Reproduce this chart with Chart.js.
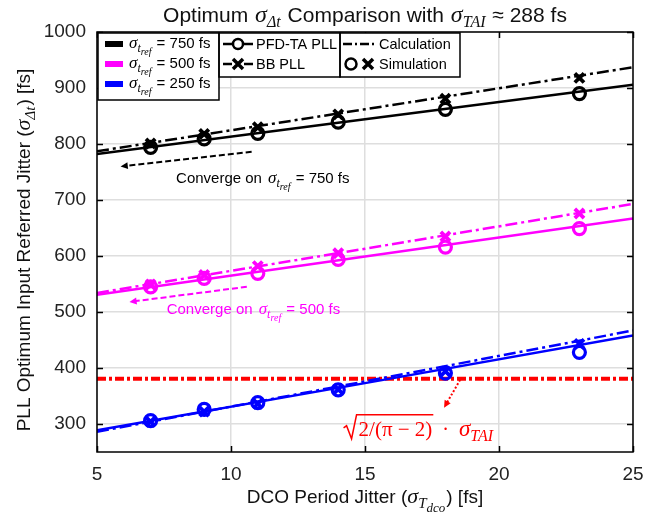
<!DOCTYPE html>
<html>
<head>
<meta charset="utf-8">
<script src="https://cdn.jsdelivr.net/npm/chart.js@4"></script>
<style>
html,body{margin:0;padding:0;background:#fff;}
canvas{display:block;}
</style>
</head>
<body>
<canvas id="c" width="659" height="517"></canvas>
<script>
// ---------------- data ----------------
const xTicks = [5, 10, 15, 20, 25];
const yTicks = [300, 400, 500, 600, 700, 800, 900, 1000];

// calculation lines (read at x = 5, 15, 25)
const calcX = [5, 15, 25];
const calc750PFD = [782, 844, 906];
const calc750BB  = [787, 862, 937];
const calc500PFD = [531, 599, 667];
const calc500BB  = [534, 613, 693];
const calc250PFD = [289, 373, 458];
const calc250BB  = [286, 376, 467];

// simulation points
const simX = [7, 9, 11, 14, 18, 23];
const sim750PFD = [794, 809, 819, 839, 862, 890];
const sim750BB  = [801, 818, 830, 853, 881, 918];
const sim500PFD = [545, 560, 569, 594, 616, 649];
const sim500BB  = [549, 566, 582, 605, 635, 676];
const sim250PFD = [306, 326, 338, 361, 391, 428];
const sim250BB  = [304, 322, 336, 362, 394, 443];

// sqrt(2/(pi-2)) * sigma_TAI
const limitX = [5, 25];
const limitY = [381, 381];

const seriesLabels = ['= 750 fs', '= 500 fs', '= 250 fs'];

// ---------------- styling ----------------
const COL = { k: '#000000', m: '#ff00ff', b: '#0000ff', r: '#ff0000' };
const SANS = '"Liberation Sans", Arial, sans-serif';
const SERIF = '"Liberation Serif", "DejaVu Serif", serif';
const DASHDOT = [12, 4, 3, 4];

const zip = (xs, ys) => xs.map((x, i) => ({ x: x, y: ys[i] }));

function calcSet(label, ys, color, dashed) {
  return { type: 'line', label, data: zip(calcX, ys), borderColor: color, borderWidth: 2.5,
    borderDash: dashed ? DASHDOT : [], pointRadius: 0, fill: false, tension: 0, order: 2 };
}
function simSet(label, ys, color, style) {
  return { type: 'scatter', label, data: zip(simX, ys), borderColor: color,
    backgroundColor: 'rgba(0,0,0,0)', pointStyle: style, pointRadius: style === 'circle' ? 6 : 6.5,
    pointBorderWidth: style === 'circle' ? 3.2 : 3.8, showLine: false, order: 0 };
}

const datasets = [
  simSet('750 PFD sim', sim750PFD, COL.k, 'circle'),
  simSet('750 BB sim', sim750BB, COL.k, 'crossRot'),
  simSet('500 PFD sim', sim500PFD, COL.m, 'circle'),
  simSet('500 BB sim', sim500BB, COL.m, 'crossRot'),
  simSet('250 PFD sim', sim250PFD, COL.b, 'circle'),
  simSet('250 BB sim', sim250BB, COL.b, 'crossRot'),
  calcSet('750 PFD calc', calc750PFD, COL.k, false),
  calcSet('750 BB calc', calc750BB, COL.k, true),
  calcSet('500 PFD calc', calc500PFD, COL.m, false),
  calcSet('500 BB calc', calc500BB, COL.m, true),
  calcSet('250 PFD calc', calc250PFD, COL.b, false),
  calcSet('250 BB calc', calc250BB, COL.b, true),
  { type: 'line', label: 'limit', data: zip(limitX, limitY), borderColor: COL.r, borderWidth: 4,
    borderDash: [9, 3, 3, 3], pointRadius: 0, fill: false, order: 3 }
];

// ---------------- rich text helpers ----------------
function fontOf(r, base) {
  const s = r.s || base;
  return (r.i ? 'italic ' : '') + s + 'px ' + (r.m ? SERIF : SANS);
}
function richWidth(ctx, runs, base) {
  let w = 0;
  runs.forEach(r => { ctx.font = fontOf(r, base); w += ctx.measureText(r.t).width + (r.gap || 0); });
  return w;
}
function drawRich(ctx, runs, x, y, base, align, color) {
  const w = richWidth(ctx, runs, base);
  let cx = align === 'center' ? x - w / 2 : (align === 'right' ? x - w : x);
  ctx.save();
  ctx.fillStyle = color;
  ctx.textBaseline = 'alphabetic';
  ctx.textAlign = 'left';
  const pos = [];
  runs.forEach(r => {
    ctx.font = fontOf(r, base);
    ctx.fillText(r.t, cx, y + (r.dy || 0));
    const ww = ctx.measureText(r.t).width;
    pos.push([cx, cx + ww]);
    cx += ww + (r.gap || 0);
  });
  ctx.restore();
  return pos;
}
// sigma with subscript and optional sub-subscript
function sig(base, sub, subsub) {
  const out = [{ t: 'σ', m: 1, i: 1, s: Math.round(base * 1.15) }];
  out.push({ t: sub, m: 1, i: 1, s: Math.round(base * 0.78), dy: Math.round(base * 0.25), gap: subsub ? 0 : 1 });
  if (subsub) out.push({ t: subsub, m: 1, i: 1, s: Math.round(base * 0.66), dy: Math.round(base * 0.45), gap: 1 });
  return out;
}

function arrow(ctx, x1, y1, x2, y2, color, dash, lw, head) {
  ctx.save();
  ctx.strokeStyle = color; ctx.fillStyle = color; ctx.lineWidth = lw;
  ctx.setLineDash(dash);
  const a = Math.atan2(y2 - y1, x2 - x1);
  ctx.beginPath(); ctx.moveTo(x1, y1);
  ctx.lineTo(x2 - Math.cos(a) * head * 0.8, y2 - Math.sin(a) * head * 0.8); ctx.stroke();
  ctx.setLineDash([]);
  ctx.beginPath();
  ctx.moveTo(x2, y2);
  ctx.lineTo(x2 - head * Math.cos(a - 0.45), y2 - head * Math.sin(a - 0.45));
  ctx.lineTo(x2 - head * Math.cos(a + 0.45), y2 - head * Math.sin(a + 0.45));
  ctx.closePath(); ctx.fill();
  ctx.restore();
}

// annotation anchors (data coordinates)
const arrow750 = { from: [10.77, 786], to: [5.88, 760] };
const arrow500 = { from: [10.59, 545], to: [6.21, 518] };
const arrowLim = { from: [18.55, 379], to: [17.95, 329] };
const text750 = [7.95, 731];
const text500 = [7.6, 496];
const textLim = [14.2, 279];

const decor = {
  id: 'decor',
  beforeDatasetsDraw(chart) {
    const { ctx, chartArea: a, scales } = chart;
    ctx.save();
    ctx.strokeStyle = '#000'; ctx.lineWidth = 1.5;
    ctx.beginPath();
    xTicks.forEach(v => {
      const px = Math.round(scales.x.getPixelForValue(v)) + 0.5;
      ctx.moveTo(px, a.bottom); ctx.lineTo(px, a.bottom - 6);
      ctx.moveTo(px, a.top); ctx.lineTo(px, a.top + 6);
    });
    yTicks.forEach(v => {
      const py = Math.round(scales.y.getPixelForValue(v)) + 0.5;
      ctx.moveTo(a.left, py); ctx.lineTo(a.left + 6, py);
      ctx.moveTo(a.right, py); ctx.lineTo(a.right - 6, py);
    });
    ctx.stroke();
    ctx.restore();
  },
  afterDatasetsDraw(chart) {
    const { ctx, chartArea: a, scales } = chart;
    const X = v => scales.x.getPixelForValue(v), Y = v => scales.y.getPixelForValue(v);

    ctx.save();
    ctx.strokeStyle = '#000'; ctx.lineWidth = 1.5;
    ctx.strokeRect(a.left, a.top, a.right - a.left, a.bottom - a.top);
    ctx.restore();

    arrow(ctx, X(arrow750.from[0]), Y(arrow750.from[1]), X(arrow750.to[0]), Y(arrow750.to[1]), COL.k, [6, 3], 2, 8);
    arrow(ctx, X(arrow500.from[0]), Y(arrow500.from[1]), X(arrow500.to[0]), Y(arrow500.to[1]), COL.m, [6, 3], 2, 8);
    arrow(ctx, X(arrowLim.from[0]), Y(arrowLim.from[1]), X(arrowLim.to[0]), Y(arrowLim.to[1]), COL.r, [2, 2], 2, 8);

    drawRich(ctx, [{ t: 'Converge on ', gap: 2 }].concat(sig(15, 't', 'ref')).concat([{ t: ' = 750 fs' }]),
      X(text750[0]), Y(text750[1]), 15, 'left', COL.k);
    drawRich(ctx, [{ t: 'Converge on ', gap: 2 }].concat(sig(15, 't', 'ref')).concat([{ t: ' = 500 fs' }]),
      X(text500[0]), Y(text500[1]), 15, 'left', COL.m);

    {
      const x0 = X(textLim[0]), y0 = Y(textLim[1]);
      const rx = x0 + 15;
      const pos = drawRich(ctx, [{ t: '2/(π − 2)', m: 1, s: 21 }, { t: '  ·  ', m: 1 }].concat(sig(20, 'TAI')),
        rx, y0, 20, 'left', COL.r);
      ctx.save();
      ctx.strokeStyle = COL.r; ctx.lineWidth = 1.5;
      ctx.beginPath();
      ctx.moveTo(x0, y0 - 8); ctx.lineTo(x0 + 3, y0 - 10);
      ctx.lineTo(x0 + 8, y0 + 3); ctx.lineTo(x0 + 13, y0 - 21);
      ctx.lineTo(pos[0][1] + 1, y0 - 21);
      ctx.stroke();
      ctx.restore();
    }

    // legend
    ctx.save();
    ctx.fillStyle = '#fff'; ctx.strokeStyle = '#000'; ctx.lineWidth = 1.5;
    const boxes = [[98, 33, 121, 67], [219, 33, 121, 44], [340, 33, 120, 44]];
    boxes.forEach(b => { ctx.fillRect(b[0], b[1], b[2], b[3]); });
    boxes.forEach(b => { ctx.strokeRect(b[0], b[1], b[2], b[3]); });
    ctx.restore();

    const rows = [44, 64, 84];
    const cols = [COL.k, COL.m, COL.b];
    rows.forEach((ry, i) => {
      ctx.fillStyle = cols[i];
      ctx.fillRect(105, ry - 3, 18, 6);
      drawRich(ctx, sig(15, 't', 'ref').concat([{ t: ' ' + seriesLabels[i] }]), 129, ry + 4, 15, 'left', '#000');
    });
    ctx.save();
    ctx.strokeStyle = '#000'; ctx.lineWidth = 2.5;
    ctx.beginPath(); ctx.moveTo(223, 44); ctx.lineTo(232, 44); ctx.moveTo(244, 44); ctx.lineTo(253, 44); ctx.stroke();
    ctx.beginPath(); ctx.lineWidth = 2.5; ctx.arc(238, 44, 5, 0, Math.PI * 2); ctx.stroke();
    ctx.beginPath(); ctx.moveTo(223, 64); ctx.lineTo(232, 64); ctx.moveTo(244, 64); ctx.lineTo(253, 64); ctx.stroke();
    ctx.lineWidth = 3.5;
    ctx.beginPath(); ctx.moveTo(233, 59); ctx.lineTo(243, 69); ctx.moveTo(243, 59); ctx.lineTo(233, 69); ctx.stroke();
    ctx.lineWidth = 2.5;
    ctx.setLineDash([9, 3, 2, 3]);
    ctx.beginPath(); ctx.moveTo(343, 44); ctx.lineTo(374, 44); ctx.stroke();
    ctx.setLineDash([]);
    ctx.lineWidth = 2.5;
    ctx.beginPath(); ctx.arc(351, 64, 5.5, 0, Math.PI * 2); ctx.stroke();
    ctx.lineWidth = 3.5;
    ctx.beginPath(); ctx.moveTo(363, 59); ctx.lineTo(373, 69); ctx.moveTo(373, 59); ctx.lineTo(363, 69); ctx.stroke();
    ctx.restore();
    drawRich(ctx, [{ t: 'PFD-TA PLL' }], 256, 49, 14.5, 'left', '#000');
    drawRich(ctx, [{ t: 'BB PLL' }], 256, 69, 14.5, 'left', '#000');
    drawRich(ctx, [{ t: 'Calculation' }], 379, 49, 14.5, 'left', '#000');
    drawRich(ctx, [{ t: 'Simulation' }], 379, 69, 14.5, 'left', '#000');
  },
  afterDraw(chart) {
    const { ctx, chartArea: a } = chart;
    const cx = (a.left + a.right) / 2;
    drawRich(ctx, [{ t: 'Optimum ', gap: 1 }].concat(sig(21, 'Δt')).concat([{ t: ' Comparison with ', gap: 1 }])
      .concat(sig(21, 'TAI')).concat([{ t: ' ≈ 288 fs' }]), cx, 22, 21, 'center', '#111');
    drawRich(ctx, [{ t: 'DCO Period Jitter (' }].concat(sig(19, 'T', 'dco')).concat([{ t: ') [fs]' }]),
      cx, 503, 19, 'center', '#111');
    ctx.save();
    ctx.translate(30, (a.top + a.bottom) / 2 + 8);
    ctx.rotate(-Math.PI / 2);
    drawRich(ctx, [{ t: 'PLL Optimum Input Referred Jitter (' }].concat(sig(19, 'Δt')).concat([{ t: ') [fs]' }]),
      0, 0, 19, 'center', '#111');
    ctx.restore();
  }
};

new Chart(document.getElementById('c'), {
  type: 'scatter',
  data: { datasets },
  options: {
    responsive: false,
    animation: false,
    layout: { padding: { left: 0, right: 26, top: 32, bottom: 0 } },
    plugins: { legend: { display: false }, tooltip: { enabled: false }, title: { display: false } },
    scales: {
      x: {
        type: 'linear', min: 5, max: 25,
        afterBuildTicks: s => { s.ticks = xTicks.map(v => ({ value: v })); },
        afterFit: s => { s.height = 65; },
        grid: { color: '#dedede', lineWidth: 1.5, drawTicks: false },
        border: { display: false },
        ticks: { padding: 11, color: '#222', font: { family: SANS, size: 19 }, callback: v => String(v) }
      },
      y: {
        type: 'linear', min: 250, max: 1000,
        afterBuildTicks: s => { s.ticks = yTicks.map(v => ({ value: v })); },
        afterFit: s => { s.width = 97; },
        grid: { color: '#dedede', lineWidth: 1.5, drawTicks: false },
        border: { display: false },
        ticks: { padding: 11, color: '#222', font: { family: SANS, size: 19 }, callback: v => String(v) }
      }
    }
  },
  plugins: [decor]
});
</script>
</body>
</html>
